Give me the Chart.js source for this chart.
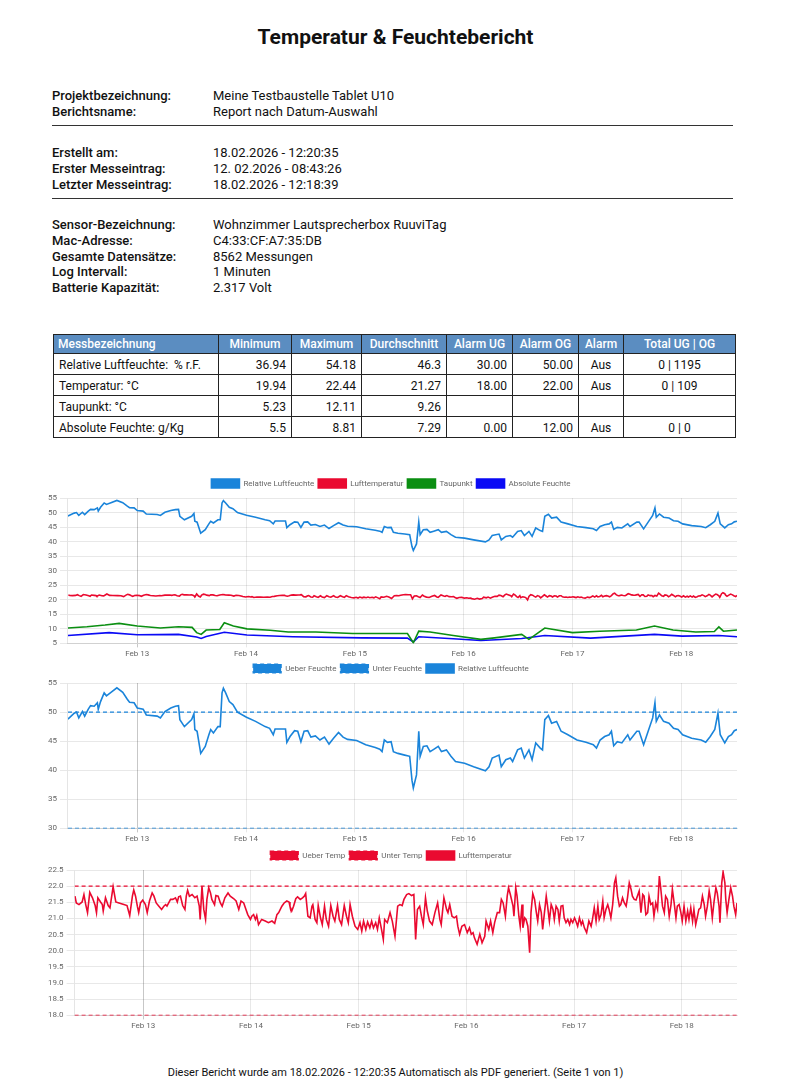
<!DOCTYPE html>
<html>
<head>
<meta charset="utf-8">
<script src="https://cdn.jsdelivr.net/npm/chart.js@4.4.1/dist/chart.umd.min.js"></script>
<style>
  body { margin: 0; font-family: Roboto, "Noto Sans", sans-serif; color: #111; background: #fff; }
  #page { position: relative; width: 791px; height: 1087px; }
  h1 { position: absolute; top: 25px; left: 0; width: 791px; margin: 0; text-align: center; font-size: 21px; font-weight: 700; }
  .info { position: absolute; left: 52px; font-size: 13px; line-height: 15.8px; }
  .info div { white-space: nowrap; }
  .info b { display: inline-block; width: 161px; font-weight: 500; }
  .rule { position: absolute; left: 52px; width: 681px; height: 0; border-top: 1.5px solid #333; }
  table { position: absolute; left: 53px; top: 334px; border-collapse: collapse; font-size: 12px; table-layout: fixed; }
  th { background: #5b8dc1; color: #fff; font-weight: 500; height: 18px; padding: 0 4px; border: 1px solid #222; }
  td { height: 21px; padding: 1px 5px 0 5px; border: 1px solid #222; text-align: right; box-sizing: border-box; }
  td.l, th.l { text-align: left; }
  td.c { text-align: center; }
  .chart { position: absolute; left: 42px; width: 698px; height: 186px; }
  #footer { position: absolute; top: 1066px; left: 0; width: 791px; text-align: center; font-size: 11px; }
</style>
</head>
<body>
<div id="page">
  <h1>Temperatur &amp; Feuchtebericht</h1>

  <div class="info" style="top:88px">
    <div><b>Projektbezeichnung:</b>Meine Testbaustelle Tablet U10</div>
    <div><b>Berichtsname:</b>Report nach Datum-Auswahl</div>
  </div>
  <div class="rule" style="top:125px"></div>
  <div class="info" style="top:145px">
    <div><b>Erstellt am:</b>18.02.2026 - 12:20:35</div>
    <div><b>Erster Messeintrag:</b>12. 02.2026 - 08:43:26</div>
    <div><b>Letzter Messeintrag:</b>18.02.2026 - 12:18:39</div>
  </div>
  <div class="rule" style="top:198px"></div>
  <div class="info" style="top:217px">
    <div><b>Sensor-Bezeichnung:</b>Wohnzimmer Lautsprecherbox RuuviTag</div>
    <div><b>Mac-Adresse:</b>C4:33:CF:A7:35:DB</div>
    <div><b>Gesamte Datensätze:</b>8562 Messungen</div>
    <div><b>Log Intervall:</b>1 Minuten</div>
    <div><b>Batterie Kapazität:</b>2.317 Volt</div>
  </div>

  <table>
    <colgroup>
      <col style="width:165px"><col style="width:73px"><col style="width:70px"><col style="width:85px">
      <col style="width:66px"><col style="width:66px"><col style="width:45px"><col style="width:112px">
    </colgroup>
    <tr><th class="l">Messbezeichnung</th><th>Minimum</th><th>Maximum</th><th>Durchschnitt</th><th>Alarm UG</th><th>Alarm OG</th><th>Alarm</th><th>Total UG | OG</th></tr>
    <tr><td class="l">Relative Luftfeuchte:&nbsp; % r.F.</td><td>36.94</td><td>54.18</td><td>46.3</td><td>30.00</td><td>50.00</td><td class="c">Aus</td><td class="c">0 | 1195</td></tr>
    <tr><td class="l">Temperatur: °C</td><td>19.94</td><td>22.44</td><td>21.27</td><td>18.00</td><td>22.00</td><td class="c">Aus</td><td class="c">0 | 109</td></tr>
    <tr><td class="l">Taupunkt: °C</td><td>5.23</td><td>12.11</td><td>9.26</td><td></td><td></td><td></td><td></td></tr>
    <tr><td class="l">Absolute Feuchte: g/Kg</td><td>5.5</td><td>8.81</td><td>7.29</td><td>0.00</td><td>12.00</td><td class="c">Aus</td><td class="c">0 | 0</td></tr>
  </table>

  <div class="chart" style="top:475px"><canvas id="chartAll"></canvas></div>
  <div class="chart" style="top:660px"><canvas id="chartHum"></canvas></div>
  <div class="chart" style="top:847px"><canvas id="chartTemp"></canvas></div>

  <div id="footer">Dieser Bericht wurde am 18.02.2026 - 12:20:35 Automatisch als PDF generiert. (Seite 1 von 1)</div>
</div>

<script>
// hours counted from 12.02.2026 00:00
const startHour = 8.72;
const endHour = 156.3;
const tickHours = [24, 48, 72, 96, 120, 144];
const tickLabels = ['Feb 13', 'Feb 14', 'Feb 15', 'Feb 16', 'Feb 17', 'Feb 18'];

const humHours = [8.7, 10.1, 10.6, 11.1, 11.9, 12.4, 13.2, 13.7, 14.5, 15.2, 15.4, 15.9, 16.7, 17.2, 18.2, 19.5, 20.8, 21.8, 22.3, 23.3,
  24.0, 25.3, 26.0, 28.4, 29.1, 30.1, 31.4, 32.4, 33.1, 33.4, 34.4, 36.0, 36.5, 36.7, 37.2, 38.0, 39.0, 39.8, 40.2, 40.8,
  41.8, 42.3, 42.7, 43.0, 43.5, 44.3, 45.1, 46.1, 48.1, 50.1, 52.2, 53.2, 54.0, 54.4, 56.7, 57.0, 57.7, 58.7, 59.4, 60.1,
  60.8, 61.6, 62.3, 63.3, 64.3, 65.3, 66.3, 67.3, 68.4, 69.4, 70.4, 72.4, 74.4, 76.5, 77.5, 78.0, 78.5, 79.2, 80.0, 80.5,
  81.5, 83.0, 84.1, 84.6, 84.9, 85.6, 86.1, 86.4, 87.1, 87.9, 88.6, 89.4, 90.4, 91.1, 92.2, 93.2, 94.2, 96.2, 98.2, 100.8,
  101.6, 102.3, 103.8, 104.3, 105.3, 106.3, 106.8, 107.9, 108.7, 109.4, 110.4, 111.1, 111.9, 112.9, 113.4, 113.9, 114.7, 115.4, 116.5, 117.5,
  119.0, 121.0, 123.0, 124.6, 125.3, 126.1, 127.1, 128.1, 128.6, 129.1, 129.9, 130.9, 132.2, 132.7, 134.2, 134.7, 135.7, 136.7, 137.7, 138.2,
  138.5, 139.2, 140.1, 141.3, 142.3, 143.3, 144.3, 146.3, 148.4, 149.4, 150.4, 151.4, 152.1, 152.6, 153.6, 154.4, 155.1, 155.7, 156.3];
const humValues = [48.8, 49.8, 50.0, 49.0, 50.1, 49.3, 50.5, 51.1, 51.0, 51.6, 50.5, 51.8, 53.3, 52.8, 53.4, 54.18, 53.4, 52.2, 51.7, 51.6,
  50.7, 50.5, 49.5, 49.3, 49.0, 50.1, 50.7, 51.0, 51.1, 48.7, 47.5, 48.7, 49.7, 47.0, 46.7, 42.9, 44.1, 46.1, 47.0, 46.4,
  47.5, 47.5, 53.3, 54.1, 53.3, 51.8, 51.3, 50.0, 49.1, 48.4, 47.5, 47.2, 46.1, 47.1, 47.1, 44.8, 45.8, 46.8, 46.7, 44.9,
  46.7, 46.8, 45.7, 45.9, 45.2, 45.7, 44.5, 45.5, 46.5, 45.7, 45.3, 45.1, 44.4, 43.9, 43.6, 43.2, 45.2, 44.8, 44.9, 43.2,
  42.9, 42.6, 42.4, 38.3, 36.94, 39.2, 46.7, 42.4, 44.1, 44.2, 43.2, 43.6, 44.1, 43.2, 43.5, 42.4, 41.5, 41.2, 40.6, 39.9,
  40.6, 42.1, 42.6, 40.6, 41.8, 42.1, 41.5, 43.5, 43.8, 42.1, 43.5, 41.8, 44.7, 43.8, 43.5, 48.7, 49.4, 48.1, 48.4, 46.7,
  46.1, 45.2, 44.8, 44.4, 43.8, 45.2, 45.8, 46.1, 46.7, 44.2, 44.9, 44.7, 46.1, 45.2, 46.7, 46.7, 44.4, 46.7, 49.0, 51.6,
  48.4, 49.5, 48.4, 48.1, 47.2, 47.0, 46.1, 45.5, 45.2, 44.8, 45.8, 47.0, 49.8, 46.1, 44.7, 45.8, 46.1, 46.8, 47.0];

const tempHours = [8.8, 9.1, 9.7, 10.4, 10.8, 11.2, 11.6, 12.1, 12.7, 13.3, 13.6, 13.9, 14.5, 14.9, 15.1, 15.6, 16.2, 16.6, 17.3, 17.9,
  18.6, 19.7, 20.4, 21.0, 21.6, 21.9, 22.3, 22.7, 23.0, 23.4, 23.9, 24.5, 24.9, 25.4, 26.0, 26.4, 26.9, 27.5, 28.1, 28.6,
  29.0, 29.3, 30.1, 30.6, 31.2, 31.6, 31.9, 32.3, 32.8, 33.3, 33.6, 33.9, 34.3, 34.9, 35.5, 36.0, 36.5, 36.7, 37.1, 37.5,
  37.9, 38.2, 38.6, 39.0, 39.3, 39.9, 40.2, 40.7, 41.2, 41.6, 42.2, 42.9, 43.4, 44.2, 44.7, 45.3, 45.8, 46.4, 46.9, 47.3,
  47.9, 48.2, 48.6, 49.0, 49.3, 49.7, 50.4, 51.2, 51.9, 52.7, 53.3, 53.8, 54.2, 54.9, 55.4, 56.0, 56.5, 56.7, 57.1, 57.5,
  58.0, 58.4, 59.0, 59.5, 59.9, 60.2, 60.7, 61.2, 61.6, 61.8, 62.3, 62.7, 63.0, 63.5, 63.9, 64.4, 64.8, 65.3, 65.8, 66.3,
  66.7, 67.3, 67.7, 68.2, 68.8, 69.3, 69.7, 70.1, 70.6, 71.2, 71.8, 72.3, 72.7, 73.1, 73.6, 74.0, 74.5, 74.9, 75.3, 75.8,
  76.2, 76.6, 77.1, 77.5, 77.8, 78.4, 79.0, 79.5, 80.1, 80.7, 81.2, 81.7, 82.1, 82.7, 83.2, 83.8, 84.3, 84.7, 85.1, 85.6,
  86.0, 86.4, 86.9, 87.3, 87.8, 88.4, 89.0, 89.6, 90.1, 90.4, 91.0, 91.6, 91.9, 92.3, 92.8, 93.3, 93.8, 94.1, 94.5, 95.0,
  95.6, 96.2, 96.7, 97.1, 97.5, 97.8, 98.4, 99.0, 99.5, 100.1, 100.4, 101.0, 101.4, 101.9, 102.3, 102.9, 103.4, 103.8, 104.2, 104.7,
  105.1, 105.4, 105.8, 106.4, 106.6, 107.0, 107.3, 107.7, 108.0, 108.4, 108.6, 109.0, 109.3, 109.7, 110.1, 110.4, 110.8, 111.2, 111.6, 111.9,
  112.3, 112.7, 113.0, 113.4, 113.8, 114.1, 114.5, 114.9, 115.3, 115.6, 116.0, 116.4, 116.7, 117.1, 117.5, 117.8, 118.2, 118.6, 119.0, 119.3,
  119.7, 120.1, 120.4, 120.8, 121.2, 121.6, 121.9, 122.3, 122.8, 123.3, 123.8, 124.1, 124.5, 124.9, 125.3, 125.6, 126.0, 126.4, 126.7, 127.1,
  127.5, 127.8, 128.2, 128.6, 129.0, 129.3, 129.7, 130.1, 130.4, 130.8, 131.2, 131.6, 131.9, 132.3, 132.7, 133.0, 133.4, 133.8, 134.1, 134.5,
  134.9, 135.3, 135.6, 136.0, 136.4, 136.7, 137.1, 137.5, 137.8, 138.2, 138.6, 139.0, 139.3, 139.7, 140.1, 140.4, 140.8, 141.2, 141.6, 141.9,
  142.3, 142.7, 143.0, 143.4, 143.8, 144.1, 144.5, 144.9, 145.3, 145.6, 146.0, 146.4, 146.7, 147.1, 147.5, 147.8, 148.2, 148.6, 149.0, 149.3,
  149.7, 150.1, 150.4, 150.8, 151.2, 151.6, 151.9, 152.3, 152.5, 152.9, 153.2, 153.6, 153.8, 154.1, 154.5, 154.9, 155.3, 155.6, 156.0, 156.3];
const tempValues = [21.69, 21.48, 21.43, 21.51, 21.74, 21.43, 21.18, 21.81, 21.64, 21.40, 21.18, 21.64, 21.51, 21.43, 21.23, 21.64, 21.40, 21.33, 21.98, 21.51,
  21.48, 21.43, 21.40, 21.09, 21.69, 21.88, 21.69, 21.38, 21.18, 21.48, 21.57, 21.43, 21.18, 21.54, 21.79, 21.69, 21.48, 21.38, 21.28, 21.38,
  21.43, 21.38, 21.59, 21.59, 21.64, 21.51, 21.67, 21.69, 21.40, 21.28, 21.69, 21.87, 21.69, 21.74, 21.64, 21.69, 21.38, 20.97, 22.00, 21.28,
  20.97, 21.59, 21.95, 21.79, 21.59, 21.43, 21.71, 21.69, 21.48, 21.38, 21.64, 21.79, 21.69, 21.61, 21.54, 21.28, 21.54, 21.48, 21.28, 21.12,
  20.97, 21.07, 21.12, 20.97, 21.09, 20.81, 20.97, 20.92, 20.87, 20.92, 20.85, 21.12, 21.18, 21.38, 21.48, 21.54, 21.51, 21.38, 21.23, 21.38,
  21.61, 21.67, 21.59, 21.64, 21.69, 21.77, 21.07, 21.02, 21.38, 21.43, 20.97, 20.87, 21.40, 21.02, 20.81, 21.38, 20.97, 20.76, 21.40, 21.07,
  20.92, 21.40, 20.97, 20.81, 21.40, 21.07, 20.87, 21.43, 21.07, 20.76, 20.66, 20.87, 20.61, 20.92, 20.66, 20.89, 20.71, 20.92, 20.71, 20.87,
  20.66, 21.02, 20.66, 20.35, 20.97, 20.87, 21.18, 20.92, 20.45, 21.38, 21.43, 21.40, 21.59, 21.74, 21.77, 21.71, 21.74, 20.35, 21.28, 21.38,
  21.07, 20.81, 21.64, 21.23, 20.92, 20.81, 21.18, 21.48, 20.97, 20.81, 21.64, 21.28, 21.18, 21.43, 21.07, 21.02, 21.07, 20.76, 20.51, 20.76,
  20.81, 20.56, 20.71, 20.51, 20.56, 20.40, 20.20, 20.51, 20.25, 20.45, 20.92, 20.66, 20.92, 20.56, 20.87, 21.18, 21.18, 21.59, 21.48, 21.07,
  21.69, 21.95, 21.74, 21.38, 21.07, 21.95, 21.69, 21.07, 20.76, 21.43, 20.71, 21.02, 20.97, 20.76, 19.94, 21.18, 21.77, 21.59, 21.18, 20.92,
  21.43, 21.18, 20.66, 21.18, 21.69, 21.38, 20.92, 21.43, 21.28, 20.97, 21.38, 21.28, 20.92, 21.38, 21.40, 21.02, 20.87, 20.97, 20.81, 20.97,
  20.87, 21.02, 20.92, 20.76, 21.02, 20.81, 20.92, 20.71, 20.56, 20.92, 20.76, 20.97, 21.33, 20.92, 21.38, 20.97, 21.12, 21.54, 21.02, 21.28,
  21.43, 21.28, 21.02, 21.43, 22.10, 22.26, 21.69, 21.38, 21.43, 21.64, 21.48, 21.38, 21.64, 22.10, 21.90, 21.69, 21.59, 21.57, 21.69, 21.85,
  21.18, 21.74, 21.69, 21.12, 21.18, 21.69, 21.43, 21.48, 21.07, 21.48, 21.28, 22.31, 21.95, 21.38, 21.18, 21.69, 21.59, 21.07, 21.43, 21.90,
  21.48, 21.02, 21.38, 21.43, 21.18, 20.92, 21.38, 20.92, 21.23, 20.97, 21.33, 20.92, 21.28, 20.81, 21.07, 21.28, 21.33, 21.69, 21.43, 21.07,
  21.38, 21.85, 21.59, 21.02, 21.54, 21.95, 21.79, 21.38, 20.87, 22.10, 22.44, 22.10, 21.59, 21.18, 21.59, 21.95, 21.69, 21.38, 21.12, 21.48];

const dewHours = [8.7, 12.9, 16.9, 20.0, 24.0, 29.1, 33.1, 36.1, 37.1, 38.1, 39.2, 42.2, 43.2, 45.2, 48.2, 53.3, 57.3, 63.4, 71.5, 79.6,
  83.6, 84.9, 86.1, 88.6, 93.7, 99.8, 102.8, 108.8, 110.4, 113.9, 120.0, 126.0, 134.1, 138.1, 142.2, 147.2, 151.3, 152.3, 153.3, 156.3];
const dewValues = [10.3, 10.7, 11.3, 11.9, 11.0, 10.3, 10.7, 10.5, 8.7, 8.1, 9.6, 9.8, 12.1, 11.0, 10.0, 9.5, 8.9, 8.9, 8.4, 8.4,
  8.4, 5.23, 9.2, 8.9, 7.7, 6.4, 6.9, 8.1, 6.4, 10.3, 8.7, 9.2, 9.6, 11.0, 9.6, 8.9, 9.1, 10.7, 9.2, 9.6];
const absHours = [8.7, 17.8, 24.0, 33.1, 37.1, 38.1, 39.2, 43.2, 48.2, 58.3, 73.5, 83.6, 84.9, 86.1, 93.7, 99.8, 108.8, 113.9, 124.0, 138.1,
  144.2, 152.3, 156.3];
const absValues = [7.7, 8.7, 8.0, 8.1, 7.2, 6.7, 7.4, 8.81, 7.9, 7.3, 6.9, 6.8, 5.5, 7.3, 6.6, 6.0, 6.7, 7.7, 6.8, 8.1,
  7.5, 7.7, 7.3];

const humLimits = [50, 30];   // Ueber / Unter Feuchte
const tempLimits = [22, 18];  // Ueber / Unter Temp

const colHum = '#1a84da';
const colTemp = '#ea0a30';
const colDew = '#0b8f12';
const colAbs = '#0a0af5';

function pts(hours, values) {
  return hours.map((h, i) => ({ x: h, y: values[i] }));
}
function flat(v) {
  return [{ x: startHour, y: v }, { x: endHour, y: v }];
}
function line(label, color, data, extra) {
  return Object.assign({
    label: label, data: data, borderColor: color, backgroundColor: color,
    borderWidth: 1.6, pointRadius: 0, tension: 0, fill: false
  }, extra || {});
}

function makeOptions(yMin, yMax, step, decimals) {
  return {
    responsive: true,
    maintainAspectRatio: false,
    animation: false,
    layout: { padding: { left: 3, right: 3, top: 0, bottom: 0 } },
    plugins: {
      legend: {
        labels: { boxWidth: 28, boxHeight: 9, padding: 4, color: '#666', font: { size: 8, family: 'Roboto' } }
      },
      tooltip: { enabled: false }
    },
    scales: {
      x: {
        type: 'linear', min: startHour, max: endHour,
        afterBuildTicks: axis => { axis.ticks = tickHours.map(v => ({ value: v })); },
        ticks: { color: '#666', font: { size: 8, family: 'Roboto' }, maxRotation: 0, padding: 2,
                 callback: (v, i) => tickLabels[i] },
        grid: { tickLength: 4, color: ctx => ctx.index === 0 ? 'rgba(0,0,0,0.22)' : 'rgba(0,0,0,0.09)' }
      },
      y: {
        min: yMin, max: yMax,
        ticks: { stepSize: step, color: '#666', font: { size: 8, family: 'Roboto' },
                 callback: v => v.toFixed(decimals) },
        grid: { color: 'rgba(0,0,0,0.09)' }
      }
    }
  };
}

new Chart(document.getElementById('chartAll'), {
  type: 'line',
  data: {
    datasets: [
      line('Relative Luftfeuchte', colHum, pts(humHours, humValues)),
      line('Lufttemperatur', colTemp, pts(tempHours, tempValues)),
      line('Taupunkt', colDew, pts(dewHours, dewValues)),
      line('Absolute Feuchte', colAbs, pts(absHours, absValues))
    ]
  },
  options: makeOptions(5, 55, 5, 0)
});

new Chart(document.getElementById('chartHum'), {
  type: 'line',
  data: {
    datasets: [
      line('Ueber Feuchte', colHum, flat(humLimits[0]), { borderWidth: 1.2, borderDash: [4, 3] }),
      line('Unter Feuchte', colHum, flat(humLimits[1]), { borderWidth: 1.2, borderDash: [4, 3] }),
      line('Relative Luftfeuchte', colHum, pts(humHours, humValues))
    ]
  },
  options: makeOptions(30, 55, 5, 0)
});

new Chart(document.getElementById('chartTemp'), {
  type: 'line',
  data: {
    datasets: [
      line('Ueber Temp', colTemp, flat(tempLimits[0]), { borderWidth: 1.2, borderDash: [4, 3] }),
      line('Unter Temp', colTemp, flat(tempLimits[1]), { borderWidth: 1.2, borderDash: [4, 3] }),
      line('Lufttemperatur', colTemp, pts(tempHours, tempValues))
    ]
  },
  options: makeOptions(18, 22.5, 0.5, 1)
});
</script>
</body>
</html>
